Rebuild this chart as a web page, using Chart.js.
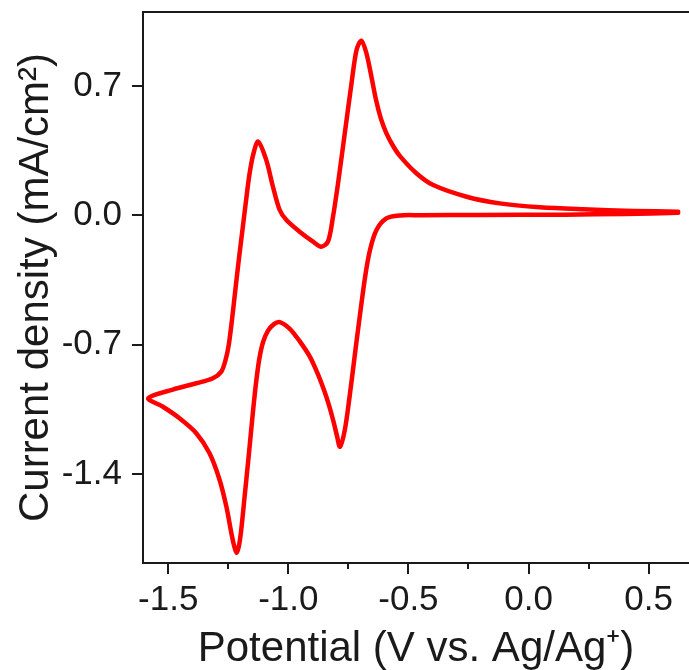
<!DOCTYPE html>
<html>
<head>
<meta charset="utf-8">
<script src="https://cdn.jsdelivr.net/npm/chart.js@4/dist/chart.umd.min.js"></script>
<style>
  html, body { margin: 0; padding: 0; background: #fff; }
  #wrap { width: 689px; height: 670px; }
</style>
</head>
<body>
<div id="wrap"><canvas id="cv" width="689" height="670"></canvas></div>
<script>
// potential (V vs Ag/Ag+) and current density (mA/cm2)
// one full cycle: cathodic sweep from the right, vertex, then anodic sweep back
const potential = [
  0.623, 0.40, 0.15, -0.20, -0.45, -0.536, -0.592, -0.633, -0.66, -0.68,
  -0.710, -0.724, -0.745, -0.765, -0.785, -0.797, -0.812, -0.83, -0.85, -0.877,
  -0.91, -0.953, -0.995, -1.036, -1.06, -1.085, -1.105, -1.12, -1.132, -1.144,
  -1.156, -1.168, -1.182, -1.196, -1.206, -1.216, -1.227, -1.237, -1.258, -1.286,
  -1.328, -1.383, -1.453, -1.522, -1.583,
  -1.481, -1.383, -1.314, -1.279, -1.262, -1.248, -1.235, -1.222, -1.207, -1.192,
  -1.177, -1.162, -1.146, -1.126, -1.092, -1.064, -1.036, -1.008, -0.953, -0.897,
  -0.863, -0.835, -0.814, -0.793, -0.765, -0.737, -0.716, -0.696, -0.675, -0.654,
  -0.635, -0.615, -0.592, -0.565, -0.536, -0.467, -0.397, -0.258, -0.12, 0.047,
  0.227, 0.436, 0.623
];
const current = [
  0.014, 0.008, 0.004, 0.002, 0.001, 0.0, -0.016, -0.079, -0.187, -0.33,
  -0.62, -0.764, -0.98, -1.161, -1.251, -1.195, -1.115, -1.03, -0.95, -0.858,
  -0.765, -0.68, -0.612, -0.577, -0.588, -0.625, -0.685, -0.77, -0.88, -1.02,
  -1.18, -1.341, -1.521, -1.70, -1.79, -1.824, -1.78, -1.719, -1.575, -1.431,
  -1.287, -1.178, -1.097, -1.035, -0.989,
  -0.942, -0.908, -0.881, -0.845, -0.785, -0.70, -0.57, -0.42, -0.25, -0.09,
  0.07, 0.22, 0.33, 0.399, 0.30, 0.155, 0.029, -0.025, -0.088, -0.142,
  -0.169, -0.142, -0.007, 0.174, 0.444, 0.714, 0.895, 0.945, 0.877, 0.75,
  0.625, 0.525, 0.445, 0.378, 0.322, 0.228, 0.164, 0.101, 0.065, 0.044,
  0.033, 0.024, 0.02
];

const xMajorTicks = [-1.5, -1.0, -0.5, 0.0, 0.5];
const xMinorTicks = [-1.25, -0.75, -0.25, 0.25];
const yTicks = [-1.4, -0.7, 0.0, 0.7];

const FONT = '"Liberation Sans", Arial, sans-serif';
const INK = '#1a1a1a';

const points = potential.map((v, i) => ({ x: v, y: current[i] }));

// frame (left, top, bottom) and outward tick marks
const framePlugin = {
  id: 'frame',
  afterDraw(chart) {
    const ctx = chart.ctx;
    const a = chart.chartArea;
    const xs = chart.scales.x, ys = chart.scales.y;
    ctx.save();
    ctx.strokeStyle = INK;
    ctx.lineWidth = 2;
    ctx.lineCap = 'square';
    ctx.beginPath();
    ctx.moveTo(a.right + 2, a.top);
    ctx.lineTo(a.left, a.top);
    ctx.lineTo(a.left, a.bottom);
    ctx.lineTo(a.right + 2, a.bottom);
    ctx.stroke();
    ctx.lineCap = 'butt';
    ctx.beginPath();
    xMajorTicks.forEach(v => {
      const px = Math.round(xs.getPixelForValue(v));
      ctx.moveTo(px, a.bottom); ctx.lineTo(px, a.bottom + 11);
    });
    xMinorTicks.forEach(v => {
      const px = Math.round(xs.getPixelForValue(v));
      ctx.moveTo(px, a.bottom); ctx.lineTo(px, a.bottom + 6);
    });
    yTicks.forEach(v => {
      const py = Math.round(ys.getPixelForValue(v));
      ctx.moveTo(a.left - 11, py); ctx.lineTo(a.left, py);
    });
    ctx.stroke();
    ctx.restore();
  }
};

new Chart(document.getElementById('cv'), {
  type: 'scatter',
  data: {
    datasets: [{
      data: points,
      showLine: true,
      borderColor: '#ff0000',
      borderWidth: 4.5,
      tension: 0.3,
      pointRadius: 0,
      borderJoinStyle: 'round',
      borderCapStyle: 'round',
      fill: false
    }]
  },
  options: {
    responsive: false,
    animation: false,
    events: [],
    layout: { padding: { top: 12, left: 0, right: 0, bottom: 0 } },
    plugins: { legend: { display: false }, tooltip: { enabled: false } },
    scales: {
      x: {
        type: 'linear',
        min: -1.605,
        max: 0.668,
        border: { display: false },
        grid: { display: false, drawTicks: false },
        afterBuildTicks: s => { s.ticks = xMajorTicks.map(v => ({ value: v })); },
        afterFit: s => { s.height = 107; s.paddingLeft = 0; s.paddingRight = 0; },
        ticks: {
          autoSkip: false,
          maxRotation: 0,
          padding: 16,
          color: INK,
          font: { family: FONT, size: 35 },
          callback: v => v.toFixed(1)
        },
        title: {
          display: true,
          text: 'Potential (V vs. Ag/Ag\u207A)',
          color: INK,
          font: { family: FONT, size: 42, lineHeight: 1 },
          padding: { top: 0, bottom: 0 }
        }
      },
      y: {
        type: 'linear',
        min: -1.88,
        max: 1.1,
        border: { display: false },
        grid: { display: false, drawTicks: false },
        afterBuildTicks: s => { s.ticks = yTicks.map(v => ({ value: v })); },
        afterFit: s => { s.width = 143; s.paddingTop = 0; s.paddingBottom = 0; },
        ticks: {
          autoSkip: false,
          padding: 21,
          color: INK,
          font: { family: FONT, size: 35 },
          callback: v => v.toFixed(1)
        },
        title: {
          display: true,
          text: 'Current density (mA/cm\u00B2)',
          color: INK,
          font: { family: FONT, size: 42, lineHeight: 1 },
          padding: { top: 15, bottom: 0 }
        }
      }
    }
  },
  plugins: [framePlugin]
});
</script>
</body>
</html>
